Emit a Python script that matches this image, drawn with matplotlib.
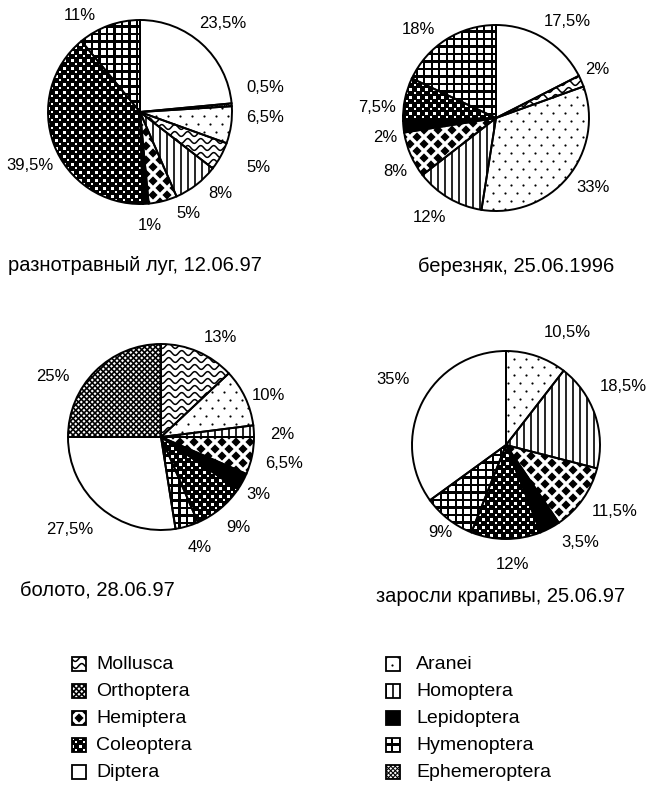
import numpy as np
import matplotlib.pyplot as plt
from matplotlib.collections import LineCollection, PatchCollection
from matplotlib.patches import Rectangle, Polygon

plt.rcParams['font.family'] = ['Liberation Sans', 'DejaVu Sans']

# groups in the order of the legend (left column, then right column)
legend_left = ['Mollusca', 'Orthoptera', 'Hemiptera', 'Coleoptera', 'Diptera']
legend_right = ['Aranei', 'Homoptera', 'Lepidoptera', 'Hymenoptera', 'Ephemeroptera']

# shares, %, clockwise from 12 o'clock
meadow_taxa = ['Diptera', 'Ephemeroptera', 'Aranei', 'Mollusca', 'Homoptera',
               'Hemiptera', 'Lepidoptera', 'Coleoptera', 'Hymenoptera']
meadow_pct = [23.5, 0.5, 6.5, 5, 8, 5, 1, 39.5, 11]

birch_taxa = ['Diptera', 'Mollusca', 'Aranei', 'Homoptera', 'Hemiptera',
              'Lepidoptera', 'Coleoptera', 'Hymenoptera']
birch_pct = [17.5, 2, 33, 12, 8, 2, 7.5, 18]

bog_taxa = ['Mollusca', 'Aranei', 'Homoptera', 'Hemiptera', 'Lepidoptera',
            'Coleoptera', 'Hymenoptera', 'Diptera', 'Orthoptera']
bog_pct = [13, 10, 2, 6.5, 3, 9, 4, 27.5, 25]

nettle_taxa = ['Aranei', 'Homoptera', 'Hemiptera', 'Lepidoptera', 'Coleoptera',
               'Hymenoptera', 'Diptera']
nettle_pct = [10.5, 18.5, 11.5, 3.5, 12, 9, 35]

titles = ['разнотравный луг, 12.06.97', 'березняк, 25.06.1996',
          'болото, 28.06.97', 'заросли крапивы, 25.06.97']

# layout, in pixels from the top-left corner
pie_geom = [(140, 113, 92), (496, 119, 93), (161, 438, 93), (506, 446, 94)]
title_xy = [(8, 266), (418, 267), (20, 591), (376, 597)]
label_xy = [
    [(223, 23), (265, 88), (265, 118), (258, 168), (220, 193), (188, 213),
     (150, 225), (30, 165), (80, 15)],
    [(567, 22), (597, 70), (593, 187), (430, 218), (395, 172), (385, 138),
     (377, 108), (418, 29)],
    [(220, 338), (268, 396), (282, 435), (284, 464), (258, 495), (238, 528),
     (200, 548), (70, 530), (53, 377)],
    [(567, 333), (623, 387), (615, 512), (580, 543), (513, 565), (440, 533),
     (393, 380)],
]

W, H = 649, 803
BLACK_BG = {'Lepidoptera', 'Coleoptera', 'Hymenoptera'}


def fmt(v):
    return ('%g' % v).replace('.', ',') + '%'


def pattern(ax, kind, clip, x0, y0, x1, y1):
    arts = []
    if kind == 'Aranei':
        pts = []
        for j, y in enumerate(np.arange(y0, y1, 8)):
            for x in np.arange(x0 + (j % 2) * 6, x1, 12):
                pts.append((x, y))
        pts = np.array(pts)
        arts.append(ax.scatter(pts[:, 0], pts[:, 1], s=2.5, c='black',
                               linewidths=0, zorder=2))
    elif kind == 'Homoptera':
        segs = [[(x, y0), (x, y1)] for x in np.arange(x0, x1, 7)]
        arts.append(ax.add_collection(LineCollection(segs, colors='black',
                                                     linewidths=1.2, zorder=2)))
    elif kind == 'Hemiptera':
        p, h = 14, 4.6
        polys = []
        for j, y in enumerate(np.arange(y0 - p, y1 + p, p / 2)):
            for x in np.arange(x0 - p + (j % 2) * p / 2, x1 + p, p):
                polys.append(Polygon([(x, y - h), (x + h, y), (x, y + h), (x - h, y)]))
        arts.append(ax.add_collection(PatchCollection(polys, facecolor='black',
                                                      edgecolor='none', zorder=2)))
    elif kind == 'Coleoptera':
        p, a, b = 8, 3.0, 1.5
        rects = []
        for y in np.arange(y0, y1, p):
            for x in np.arange(x0, x1, p):
                rects.append(Rectangle((x - a / 2, y - a / 2), a, a))
                rects.append(Rectangle((x + p / 2 - b / 2, y + p / 2 - b / 2), b, b))
        arts.append(ax.add_collection(PatchCollection(rects, facecolor='white',
                                                      edgecolor='none', zorder=2)))
    elif kind == 'Hymenoptera':
        p, a = 7.5, 5.2
        rects = [Rectangle((x, y), a, a)
                 for y in np.arange(y0, y1, p) for x in np.arange(x0, x1, p)]
        arts.append(ax.add_collection(PatchCollection(rects, facecolor='white',
                                                      edgecolor='none', zorder=2)))
    elif kind in ('Orthoptera', 'Ephemeroptera'):
        step = 5.5 if kind == 'Orthoptera' else 4.5
        lw = 1.2 if kind == 'Orthoptera' else 0.8
        span = (x1 - x0) + (y1 - y0)
        segs = []
        for c in np.arange(-span, span, step):
            segs.append([(x0 + c, y0), (x0 + c + span, y0 + span)])
            segs.append([(x1 - c, y0), (x1 - c - span, y0 + span)])
        arts.append(ax.add_collection(LineCollection(segs, colors='black',
                                                     linewidths=lw, zorder=2)))
    elif kind == 'Mollusca':
        xs = np.linspace(x0, x1, 200)
        segs = [np.column_stack([xs, y + 2.4 * np.sin(2 * np.pi * (xs - x0) / 13)])
                for y in np.arange(y0 - 5, y1 + 5, 7)]
        arts.append(ax.add_collection(LineCollection(segs, colors='black',
                                                     linewidths=1.1, zorder=2)))
    for art in arts:
        art.set_clip_path(clip)


fig = plt.figure(figsize=(W / 100, H / 100), dpi=100)
ax = fig.add_axes([0, 0, 1, 1])

charts = [(meadow_taxa, meadow_pct), (birch_taxa, birch_pct),
          (bog_taxa, bog_pct), (nettle_taxa, nettle_pct)]

for (taxa, pct), (cx, cy, r), lxy, title, txy in zip(charts, pie_geom, label_xy,
                                                     titles, title_xy):
    faces = ['black' if t in BLACK_BG else 'white' for t in taxa]
    # y axis points down, so counterclock=True runs clockwise on screen
    wedges, _ = ax.pie(pct, colors=faces, startangle=-90, counterclock=True,
                       center=(cx, cy), radius=r, frame=True,
                       wedgeprops=dict(linewidth=0, zorder=1))
    for w, t in zip(wedges, taxa):
        pattern(ax, t, w, cx - r, cy - r, cx + r, cy + r)
    ax.pie(pct, startangle=-90, counterclock=True, center=(cx, cy), radius=r,
           frame=True, wedgeprops=dict(fill=False, edgecolor='black',
                                       linewidth=1.4, zorder=3))
    for v, (tx, ty) in zip(pct, lxy):
        ax.text(tx, ty, fmt(v), fontsize=12, ha='center', va='center')
    ax.text(txy[0], txy[1], title, fontsize=14.5, ha='left', va='center')

# legend
rows = [665 + 27 * k for k in range(5)]
for names, ix, tx in ((legend_left, 72, 96), (legend_right, 386, 416)):
    for name, y in zip(names, rows):
        face = 'black' if name in BLACK_BG else 'white'
        box = Rectangle((ix, y - 7), 14, 14, facecolor=face, edgecolor='none',
                        zorder=1)
        ax.add_patch(box)
        pattern(ax, name, box, ix, y - 7, ix + 14, y + 7)
        ax.add_patch(Rectangle((ix, y - 7), 14, 14, fill=False,
                               edgecolor='black', linewidth=1.3, zorder=3))
        ax.text(tx, y, name, fontsize=14, ha='left', va='center')

ax.set_xlim(0, W)
ax.set_ylim(H, 0)
ax.set_aspect('equal')
ax.set_axis_off()

fig.savefig('out.png', dpi=100, facecolor='white')
